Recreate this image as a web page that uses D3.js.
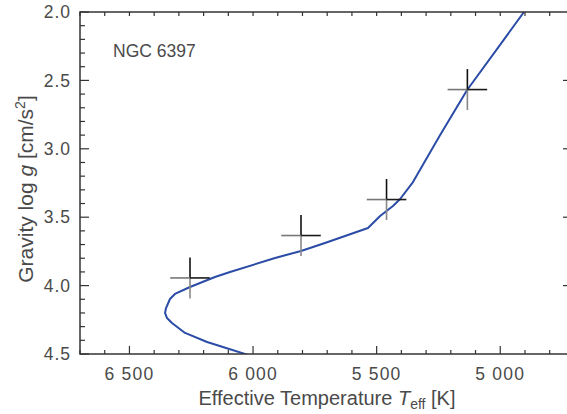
<!DOCTYPE html>
<html>
<head>
<meta charset="utf-8">
<script src="https://cdn.jsdelivr.net/npm/d3@7"></script>
<style>
  html, body { margin: 0; padding: 0; background: #fff; }
  svg { display: block; }
  text { font-family: "Liberation Sans", Arial, sans-serif; fill: #4a4a4a; }
</style>
</head>
<body>
<svg id="chart" width="567" height="414"></svg>
<script>
// ---- data ----
const isochroneTeff = [4904, 5134, 5245, 5353, 5405, 5434, 5486, 5535, 5709, 5806, 5911, 6093, 6154, 6255, 6316, 6336, 6352, 6356, 6348, 6328, 6275, 6186, 6020];
const isochroneLogg = [2.00, 2.570, 2.905, 3.243, 3.367, 3.418, 3.491, 3.579, 3.689, 3.747, 3.798, 3.901, 3.937, 4.010, 4.061, 4.098, 4.164, 4.200, 4.237, 4.273, 4.346, 4.412, 4.507];
const starTeff = [6255, 5806, 5460, 5133];
const starLogg = [3.944, 3.634, 3.371, 2.567];
const starTeffErr = [80, 80, 80, 80];
const starLoggErr = [0.15, 0.15, 0.15, 0.15];
const xMajorTicks = [6500, 6000, 5500, 5000];
const xTickLabels = ["6 500", "6 000", "5 500", "5 000"];
const yMajorTicks = [2.0, 2.5, 3.0, 3.5, 4.0, 4.5];
const yTickLabels = ["2.0", "2.5", "3.0", "3.5", "4.0", "4.5"];
const clusterLabel = "NGC 6397";

// ---- layout ----
const svg = d3.select("#chart");
const L = 80, R = 567, T = 12, B = 354;
const x = d3.scaleLinear().domain([6700, 4730]).range([L, R]);
const y = d3.scaleLinear().domain([2.0, 4.5]).range([T, B]);
const axisColor = "#333";

const xMinor = d3.range(6700, 4700, -100);
const yMinor = d3.range(20, 46, 1).map(v => v / 10);

const clipId = "plotclip";
svg.append("clipPath").attr("id", clipId).append("rect")
  .attr("x", L).attr("y", T).attr("width", R - L).attr("height", B - T);

// isochrone
const line = d3.line().x((d, i) => x(isochroneTeff[i])).y((d, i) => y(isochroneLogg[i]));
svg.append("path")
  .attr("clip-path", `url(#${clipId})`)
  .attr("d", line(isochroneTeff))
  .attr("fill", "none")
  .attr("stroke", "#2b4ca6")
  .attr("stroke-width", 2)
  .attr("stroke-linejoin", "round");

// error crosses
const crosses = svg.append("g");
starTeff.forEach((t, i) => {
  const cx = x(t), cy = y(starLogg[i]);
  const seg = (x1, y1, x2, y2, c) => crosses.append("line")
    .attr("x1", x1).attr("y1", y1).attr("x2", x2).attr("y2", y2)
    .attr("stroke", c).attr("stroke-width", 1.6);
  seg(cx, cy, cx, y(starLogg[i] - starLoggErr[i]), "#111");
  seg(cx, cy, cx, y(starLogg[i] + starLoggErr[i]), "#888");
  seg(cx, cy, x(t + starTeffErr[i]), cy, "#777");
  seg(cx, cy, x(t - starTeffErr[i]), cy, "#1a1a1a");
});

// axes
const ax = svg.append("g").attr("stroke", axisColor).attr("stroke-width", 1.5);
ax.append("line").attr("x1", L).attr("x2", R).attr("y1", B).attr("y2", B);
ax.append("line").attr("x1", L).attr("x2", R).attr("y1", T).attr("y2", T);
ax.append("line").attr("x1", L).attr("x2", L).attr("y1", T - 0.75).attr("y2", B + 0.75);

const isMajorX = v => xMajorTicks.includes(v);
ax.selectAll(".bt").data(xMinor).join("line")
  .attr("x1", d => x(d)).attr("x2", d => x(d))
  .attr("y1", B).attr("y2", d => B - (isMajorX(d) ? 8 : 4))
  .attr("stroke-width", 1.2);
ax.selectAll(".tt").data(xMinor).join("line")
  .attr("x1", d => x(d)).attr("x2", d => x(d))
  .attr("y1", T).attr("y2", T + 4)
  .attr("stroke-width", 1.2);
const isMajorY = v => yMajorTicks.some(m => Math.abs(m - v) < 1e-6);
ax.selectAll(".lt").data(yMinor).join("line")
  .attr("y1", d => y(d)).attr("y2", d => y(d))
  .attr("x1", L).attr("x2", d => L + (isMajorY(d) ? 9 : 5))
  .attr("stroke-width", 1.2);
ax.selectAll(".rt").data(yMajorTicks.slice(1, -1)).join("line")
  .attr("y1", d => y(d)).attr("y2", d => y(d))
  .attr("x1", R - 4).attr("x2", R)
  .attr("stroke-width", 1.2);

// tick labels
svg.selectAll(".xl").data(xMajorTicks).join("text")
  .attr("x", d => x(d)).attr("y", 380)
  .attr("text-anchor", "middle")
  .attr("font-size", 17.5).style("letter-spacing", "1.2px")
  .text((d, i) => xTickLabels[i]);
svg.selectAll(".yl").data(yMajorTicks).join("text")
  .attr("x", 71).attr("y", d => y(d))
  .attr("dy", "0.35em")
  .attr("text-anchor", "end")
  .attr("font-size", 17.5).style("letter-spacing", "1px")
  .text((d, i) => yTickLabels[i]);

// axis titles
const xt = svg.append("text").attr("x", 327).attr("y", 405).attr("text-anchor", "middle").attr("font-size", 20);
xt.append("tspan").text("Effective Temperature ");
xt.append("tspan").attr("font-style", "italic").text("T");
xt.append("tspan").attr("font-size", 14).attr("dy", 4).text("eff");
xt.append("tspan").attr("dy", -4).text(" [K]");

const yt = svg.append("text").attr("transform", "translate(33,189) rotate(-90)")
  .attr("text-anchor", "middle").attr("font-size", 21);
yt.append("tspan").text("Gravity log ");
yt.append("tspan").attr("font-style", "italic").text("g");
yt.append("tspan").text(" [cm/s");
yt.append("tspan").attr("font-size", 14).attr("dy", -8).text("2");
yt.append("tspan").attr("dy", 8).text("]");

svg.append("text").attr("x", 113).attr("y", 57).attr("font-size", 17.5).text(clusterLabel);
</script>
</body>
</html>
